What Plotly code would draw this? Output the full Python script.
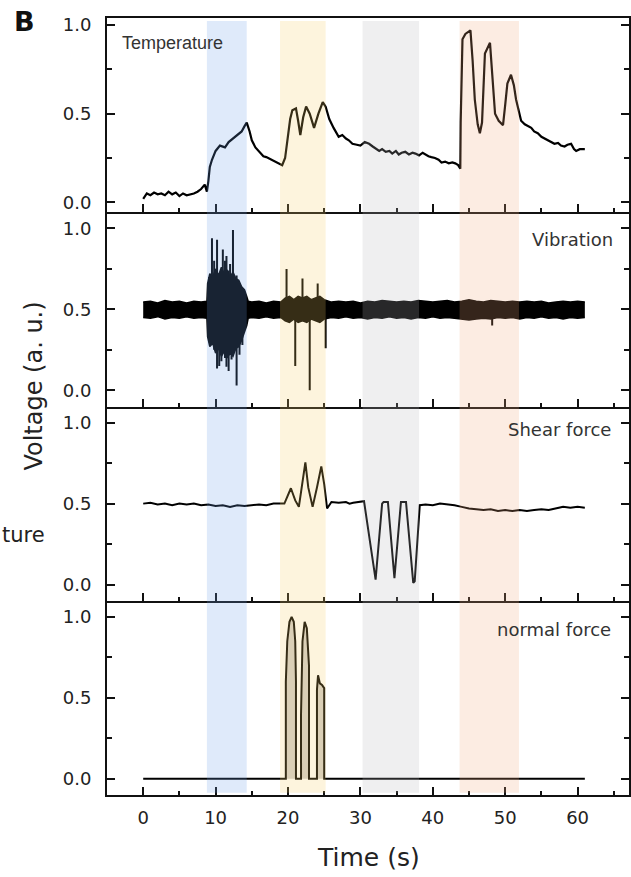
import plotly.graph_objects as go
from plotly.subplots import make_subplots

# ---------------- data ----------------
temp_t = [0, 0.5, 1, 1.5, 2, 2.5, 3, 3.5, 4, 4.5, 5, 5.5, 6, 6.5, 7, 7.5, 8, 8.5, 8.8,
          9.0, 9.2, 9.5, 10.0, 10.6, 11.3, 11.8, 12.4, 13.0, 13.6, 14.0, 14.3, 14.7,
          15.0, 15.5, 16.1, 16.6, 17.0, 17.5, 18.1, 18.6, 19.2, 19.6, 19.9, 20.3, 20.6,
          21.1, 21.4, 21.7, 22.1, 22.5, 23.0, 23.6, 24.2, 24.8, 25.2, 25.7, 26.3, 27.0,
          27.5, 28.0, 28.4, 28.9, 29.5, 30.0, 30.6, 31.2, 31.7, 32.2, 32.6, 33.0, 33.5,
          34.0, 34.4, 34.9, 35.3, 35.7, 36.2, 36.7, 37.2, 37.6, 38.1, 38.6, 39.0, 39.4,
          39.8, 40.3, 40.8, 41.2, 41.7, 42.2, 42.7, 43.1, 43.5, 43.8, 43.85, 44.1, 44.5,
          45.2, 45.5, 45.8, 46.2, 46.5, 46.8, 47.2, 47.9, 48.3, 48.6, 49.1, 49.7, 50.0,
          50.3, 50.8, 51.2, 51.5, 51.9, 52.2, 52.7, 53.1, 53.6, 54.0, 54.5, 55.0, 55.5,
          55.9, 56.4, 56.8, 57.3, 57.7, 58.2, 58.6, 59.1, 59.5, 59.8, 60.3, 61.0]
temp_v = [0.02, 0.05, 0.04, 0.055, 0.045, 0.05, 0.04, 0.06, 0.045, 0.055, 0.035, 0.05, 0.04,
          0.045, 0.05, 0.06, 0.075, 0.10, 0.06,
          0.12, 0.20, 0.24, 0.29, 0.32, 0.31, 0.34, 0.36, 0.38, 0.40, 0.43, 0.45, 0.40,
          0.35, 0.31, 0.28, 0.26, 0.255, 0.245, 0.23, 0.22, 0.21, 0.25, 0.35, 0.47, 0.52,
          0.53, 0.46, 0.38, 0.48, 0.54, 0.50, 0.42, 0.50, 0.565, 0.54, 0.47, 0.42, 0.37,
          0.38, 0.36, 0.35, 0.33, 0.325, 0.32, 0.34, 0.33, 0.315, 0.30, 0.29, 0.30, 0.285,
          0.29, 0.275, 0.29, 0.27, 0.28, 0.285, 0.27, 0.28, 0.275, 0.265, 0.28, 0.27, 0.26,
          0.255, 0.25, 0.24, 0.225, 0.23, 0.22, 0.225, 0.22, 0.21, 0.19, 0.45, 0.92, 0.95,
          0.97, 0.80, 0.58, 0.44, 0.39, 0.45, 0.84, 0.90, 0.70, 0.50, 0.46, 0.435, 0.55,
          0.67, 0.72, 0.66, 0.58, 0.50, 0.46, 0.44, 0.43, 0.42, 0.40, 0.39, 0.37, 0.36,
          0.35, 0.34, 0.33, 0.335, 0.32, 0.315, 0.325, 0.33, 0.30, 0.29, 0.30, 0.30]

vib_t = [0, 1, 2, 3, 4, 5, 6, 7, 8, 8.8, 8.9,
         9.2, 9.6, 10.0, 10.4, 10.8, 11.2, 11.6, 12.0, 12.4, 12.8, 13.2, 13.6, 14.0,
         14.3, 14.5, 15, 16, 17, 18, 19,
         19.6, 20.2, 20.8, 21.4, 22.0, 22.6, 23.2, 23.8, 24.4, 25.0, 25.6,
         26, 27, 28, 29, 30, 31, 32, 33, 34, 35, 36, 37, 38, 39, 40, 41, 42, 43,
         44, 45, 46, 47, 48, 49, 50, 51, 52, 53, 54, 55, 56, 57, 58, 59, 60, 61]
vib_hi = [0.545, 0.55, 0.54, 0.555, 0.545, 0.55, 0.54, 0.55, 0.545, 0.55, 0.66,
          0.72, 0.70, 0.75, 0.71, 0.76, 0.72, 0.74, 0.70, 0.73, 0.69, 0.68, 0.64, 0.62,
          0.58, 0.55, 0.545, 0.55, 0.54, 0.55, 0.545,
          0.57, 0.58, 0.56, 0.58, 0.57, 0.58, 0.56, 0.57, 0.58, 0.56, 0.55,
          0.545, 0.55, 0.545, 0.55, 0.54, 0.55, 0.545, 0.555, 0.55, 0.545, 0.55, 0.545,
          0.555, 0.55, 0.545, 0.55, 0.555, 0.545,
          0.55, 0.56, 0.55, 0.545, 0.555, 0.55, 0.545, 0.55, 0.545, 0.55, 0.545, 0.55,
          0.54, 0.545, 0.55, 0.545, 0.55, 0.545]
vib_lo = [0.45, 0.445, 0.455, 0.44, 0.45, 0.445, 0.455, 0.445, 0.45, 0.445, 0.33,
          0.27, 0.29, 0.23, 0.26, 0.21, 0.24, 0.20, 0.23, 0.21, 0.26, 0.27, 0.31, 0.36,
          0.40, 0.445, 0.45, 0.445, 0.455, 0.445, 0.45,
          0.43, 0.42, 0.44, 0.42, 0.43, 0.42, 0.44, 0.43, 0.42, 0.44, 0.445,
          0.45, 0.445, 0.455, 0.445, 0.45, 0.44, 0.45, 0.445, 0.455, 0.445, 0.45, 0.44,
          0.45, 0.445, 0.455, 0.445, 0.45, 0.445,
          0.44, 0.435, 0.44, 0.445, 0.44, 0.45, 0.445, 0.45, 0.44, 0.45, 0.445, 0.455,
          0.445, 0.45, 0.44, 0.45, 0.445, 0.45]

spike_t = [9.1, 9.5, 9.8, 10.2, 10.5, 10.8, 11.0, 11.3, 11.5, 11.8, 12.0, 12.2, 12.4,
           12.9, 13.3, 13.7,
           19.8, 21.0, 22.0, 23.0, 24.1, 25.2, 48.2]
spike_lo = [0.30, 0.40, 0.25, 0.135, 0.15, 0.18, 0.30, 0.20, 0.145, 0.12, 0.30, 0.19,
            0.35, 0.03, 0.22, 0.28,
            0.45, 0.15, 0.45, 0.00, 0.45, 0.26, 0.40]
spike_hi = [0.70, 0.94, 0.80, 0.93, 0.72, 0.60, 0.87, 0.80, 0.83, 0.74, 0.78, 0.50,
            0.99, 0.71, 0.65, 0.62,
            0.75, 0.55, 0.69, 0.55, 0.66, 0.55, 0.50]

shear_t = [0, 1, 2, 3, 4, 5, 6, 7, 8, 9, 10, 11, 12, 13, 14, 15, 16, 17, 18, 19, 19.5,
           20.4, 21.0, 21.5, 22.0, 22.4, 22.8, 23.4, 24.0, 24.6, 25.0, 25.4, 26.0,
           27, 28, 28.5, 29, 30, 30.5, 32.1, 33.0, 33.2, 33.8, 34.7, 35.6, 36.3,
           37.3, 37.5, 38.2, 39, 40, 41, 42, 43, 44, 45, 46, 47, 48, 49, 50, 51, 52,
           53, 54, 55, 56, 57, 58, 59, 60, 61]
shear_v = [0.50, 0.505, 0.495, 0.50, 0.49, 0.50, 0.495, 0.50, 0.49, 0.495, 0.485, 0.49,
           0.48, 0.49, 0.485, 0.49, 0.495, 0.49, 0.50, 0.50, 0.50,
           0.595, 0.52, 0.48, 0.62, 0.755, 0.60, 0.48, 0.60, 0.73, 0.62, 0.47, 0.51,
           0.505, 0.51, 0.50, 0.505, 0.51, 0.515, 0.03, 0.50, 0.51, 0.51, 0.04, 0.51, 0.51,
           0.01, 0.02, 0.49, 0.495, 0.49, 0.50, 0.495, 0.49, 0.48, 0.47, 0.465, 0.46,
           0.465, 0.455, 0.46, 0.455, 0.46, 0.455, 0.46, 0.465, 0.46, 0.47, 0.48, 0.475,
           0.48, 0.475]

norm_t = [0, 19.7, 19.7, 19.9, 20.2, 20.5, 20.8, 21.0, 21.1, 21.1,
          21.8, 21.8, 22.0, 22.3, 22.6, 22.9, 22.9,
          24.0, 24.0, 24.15, 24.4, 24.7, 25.0, 25.0, 61]
norm_v = [0, 0, 0.60, 0.85, 0.97, 1.0, 0.97, 0.85, 0.60, 0,
          0, 0.40, 0.85, 0.97, 0.93, 0.70, 0,
          0, 0.55, 0.64, 0.59, 0.58, 0.56, 0, 0]

band_start = [8.8, 18.9, 30.3, 43.7]
band_end = [14.3, 25.2, 38.1, 51.9]
band_color = ["rgb(110,160,230)", "rgb(247,207,100)", "rgb(180,180,186)", "rgb(240,170,125)"]

x_ticks = [0, 10, 20, 30, 40, 50, 60]
y_ticks = [0.0, 0.5, 1.0]
y_tick_text = ["0.0", "0.5", "1.0"]
panel_labels = ["Temperature", "Vibration", "Shear force", "normal force"]

# ---------------- figure ----------------
fig = make_subplots(rows=4, cols=1, shared_xaxes=False, vertical_spacing=0)

LINE = "#000000"
fig.add_trace(go.Scatter(x=temp_t, y=temp_v, mode="lines",
                         line=dict(color=LINE, width=2.2)), row=1, col=1)

fig.add_trace(go.Scatter(x=vib_t, y=vib_lo, mode="lines",
                         line=dict(color=LINE, width=1.5)), row=2, col=1)
fig.add_trace(go.Scatter(x=vib_t, y=vib_hi, mode="lines", fill="tonexty",
                         fillcolor=LINE, line=dict(color=LINE, width=1.5)), row=2, col=1)
sx, sy = [], []
for t, lo, hi in zip(spike_t, spike_lo, spike_hi):
    sx += [t, t, None]
    sy += [lo, hi, None]
fig.add_trace(go.Scatter(x=sx, y=sy, mode="lines",
                         line=dict(color=LINE, width=2)), row=2, col=1)

fig.add_trace(go.Scatter(x=shear_t, y=shear_v, mode="lines",
                         line=dict(color=LINE, width=2)), row=3, col=1)

fig.add_trace(go.Scatter(x=norm_t, y=norm_v, mode="lines", fill="tozeroy",
                         fillcolor="rgba(110,100,90,0.30)",
                         line=dict(color=LINE, width=2)), row=4, col=1)

# coloured bands as translucent overlays
for s, e, c in zip(band_start, band_end, band_color):
    fig.add_shape(type="rect", xref="x", yref="paper", x0=s, x1=e, y0=0.003, y1=0.996,
                  fillcolor=c, opacity=0.22, line=dict(width=0), layer="above")

TICKFONT = dict(family="DejaVu Sans", size=18, color="#222222")
yranges = [[-0.056, 1.04], [-0.1, 1.1], [-0.1, 1.1], [-0.1, 1.1]]
for i in range(1, 5):
    fig.update_xaxes(row=i, col=1, range=[-5, 67.1], showline=True, linewidth=2,
                     linecolor="#111111", mirror=(i == 1), ticks="inside", ticklen=8,
                     tickwidth=2, tickcolor="#111111", tickvals=x_ticks,
                     minor=dict(dtick=5, tick0=0, ticks="inside", ticklen=4,
                                tickwidth=2, tickcolor="#111111"),
                     showgrid=False, zeroline=False, showticklabels=(i == 4),
                     tickfont=TICKFONT, ticklabelstandoff=5)
    fig.update_yaxes(row=i, col=1, range=yranges[i - 1], showline=True, linewidth=2,
                     linecolor="#111111", mirror="ticks", ticks="inside", ticklen=8,
                     tickwidth=2, tickcolor="#111111", tickvals=y_ticks,
                     ticktext=y_tick_text,
                     minor=dict(dtick=0.25, tick0=0, ticks="inside", ticklen=5,
                                tickwidth=2, tickcolor="#111111"),
                     showgrid=False, zeroline=False, tickfont=TICKFONT,
                     ticklabelstandoff=10)

LABFONT = dict(family="DejaVu Sans", size=18, color="#333333")
ann = [
    dict(text=panel_labels[0], xref="x", yref="y", x=-3.2, y=0.90, xanchor="left",
         yanchor="middle", showarrow=False,
         font=dict(family="Liberation Sans Narrow, Liberation Sans", size=18,
                   color="#333333")),
    dict(text=panel_labels[1], xref="x2", yref="y2", x=65.2, y=0.93, xanchor="right",
         yanchor="middle", showarrow=False, font=LABFONT),
    dict(text=panel_labels[2], xref="x3", yref="y3", x=64.9, y=0.96, xanchor="right",
         yanchor="middle", showarrow=False, font=LABFONT),
    dict(text=panel_labels[3], xref="x4", yref="y4", x=64.9, y=0.925, xanchor="right",
         yanchor="middle", showarrow=False, font=LABFONT),
    dict(text="<b>B</b>", xref="paper", yref="paper", x=-0.158, y=0.995,
         xanchor="center", yanchor="middle", showarrow=False,
         font=dict(family="DejaVu Sans", size=27, color="#111111")),
    dict(text="Voltage (a. u.)", xref="paper", yref="paper", x=-0.1393, y=0.526,
         xanchor="center", yanchor="middle", textangle=-90, showarrow=False,
         font=dict(family="DejaVu Sans", size=24, color="#222222")),
    dict(text="ture", xref="paper", yref="paper", x=-0.2042, y=0.3346,
         xanchor="left", yanchor="middle", showarrow=False,
         font=dict(family="DejaVu Sans", size=21, color="#222222")),
    dict(text="Time (s)", xref="paper", yref="paper", x=0.5, y=-0.081,
         xanchor="center", yanchor="middle", showarrow=False,
         font=dict(family="DejaVu Sans", size=25, color="#222222")),
]
fig.update_layout(width=631, height=877, autosize=False,
                  margin=dict(l=107, r=0, t=18, b=82),
                  paper_bgcolor="white", plot_bgcolor="white",
                  showlegend=False, annotations=ann)

fig.write_html("out.html")
